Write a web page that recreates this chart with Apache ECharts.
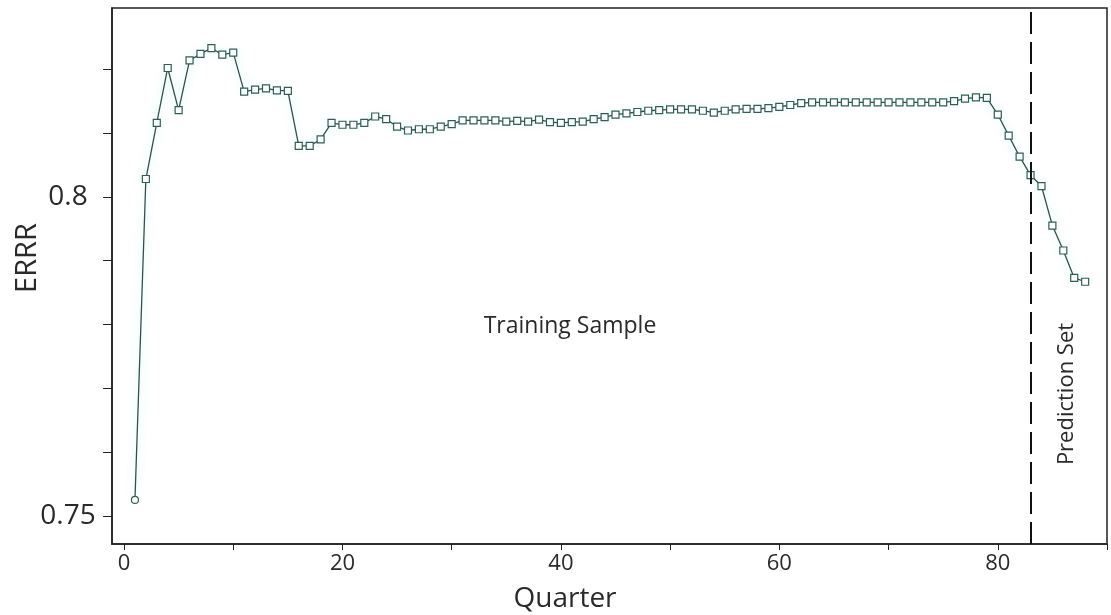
<!DOCTYPE html>
<html>
<head>
<meta charset="utf-8">
<script src="https://cdn.jsdelivr.net/npm/echarts@6/dist/echarts.min.js"></script>
<style>
html,body{margin:0;padding:0;background:#fff;}
#chart{width:1111px;height:615px;}
</style>
</head>
<body>
<div id="chart"></div>
<script>
const quarters = [];
for (let q = 1; q <= 88; q++) quarters.push(q);

const errr = [
  0.7525, 0.8028, 0.8116, 0.8202, 0.8136, 0.8214, 0.8224, 0.8233, 0.8223, 0.8226,
  0.8165, 0.8168, 0.8170, 0.8167, 0.8166, 0.8080, 0.8080, 0.8090, 0.8116, 0.8113,
  0.8113, 0.8116, 0.8126, 0.8122, 0.8110, 0.8104, 0.8106, 0.8106, 0.8110, 0.8114,
  0.8120, 0.8120, 0.8120, 0.8120, 0.8118, 0.8119, 0.8118, 0.8121, 0.8117, 0.8116,
  0.8117, 0.8118, 0.8122, 0.8125, 0.8129, 0.8131, 0.8133, 0.8135, 0.8136, 0.8137,
  0.8137, 0.8137, 0.8135, 0.8132, 0.8135, 0.8137, 0.8138, 0.8138, 0.8139, 0.8141,
  0.8144, 0.8147, 0.8148, 0.8148, 0.8148, 0.8148, 0.8148, 0.8148, 0.8148, 0.8148,
  0.8148, 0.8148, 0.8148, 0.8148, 0.8148, 0.8150, 0.8154, 0.8156, 0.8155, 0.8129,
  0.8096, 0.8063, 0.8034, 0.8017, 0.7955, 0.7916, 0.7873, 0.7867
];

const xTicks = [0, 10, 20, 30, 40, 50, 60, 70, 80, 90];
const xLabels = [0, 20, 40, 60, 80];
const yTicks = [0.75, 0.76, 0.77, 0.78, 0.79, 0.80, 0.81, 0.82];
const yLabels = [0.75, 0.8];
const splitQuarter = 83;

const seriesData = quarters.map((q, i) => ({
  value: [q, errr[i]],
  symbol: i === 0 ? 'circle' : 'rect'
}));

const chart = echarts.init(document.getElementById('chart'));
const font = '"Open Sans", "Noto Sans", sans-serif';
const ink = '#2a2a2a';
chart.setOption({
  animation: false,
  backgroundColor: '#ffffff',
  grid: {
    left: 112, right: 4, top: 8, bottom: 71,
    containLabel: false, outerBoundsMode: 'none',
    show: true, borderColor: '#222', borderWidth: 1.5, backgroundColor: 'transparent'
  },
  xAxis: {
    type: 'value',
    min: -1.1, max: 90,
    name: 'Quarter',
    nameLocation: 'middle',
    nameGap: 41,
    nameTextStyle: { fontSize: 28, color: ink, fontFamily: font, padding: [0, 89, 0, 0] },
    axisLine: { show: true, onZero: false, lineStyle: { color: '#222', width: 1.5 } },
    axisTick: { show: true, length: 6, customValues: xTicks, lineStyle: { color: '#222' } },
    axisLabel: { customValues: xLabels, fontSize: 22, color: ink, margin: 9, fontFamily: font },
    splitLine: { show: false }
  },
  yAxis: {
    type: 'value',
    min: 0.7456, max: 0.8296,
    axisLine: { show: true, onZero: false, lineStyle: { color: '#222', width: 1.5 } },
    axisTick: { show: true, length: 9, customValues: yTicks, lineStyle: { color: '#222' } },
    axisLabel: {
      customValues: yLabels, fontSize: 28, color: ink, margin: 44, align: 'center', fontFamily: font,
      formatter: v => String(Math.round(v * 100) / 100)
    },
    splitLine: { show: false }
  },
  series: [{
    type: 'line',
    data: seriesData,
    symbolSize: 7,
    showSymbol: true,
    lineStyle: { color: '#33504a', width: 1.3, shadowColor: 'rgba(80,230,210,0.45)', shadowBlur: 10 },
    itemStyle: { color: '#ffffff', borderColor: '#2f5e55', borderWidth: 1.2 },
    markLine: {
      silent: true,
      symbol: 'none',
      label: { show: false },
      lineStyle: { color: '#111', width: 2, type: [22, 8] },
      data: [{ xAxis: splitQuarter }]
    }
  }],
  graphic: [
    {
      type: 'text', x: 28, y: 258, rotation: Math.PI / 2,
      style: { text: 'ERRR', fontSize: 29, fill: ink, fontFamily: font, align: 'center', verticalAlign: 'middle' }
    },
    {
      type: 'text', x: 570, y: 326,
      style: { text: 'Training Sample', fontSize: 23, fill: ink, fontFamily: font, align: 'center', verticalAlign: 'middle' }
    },
    {
      type: 'text', x: 1067, y: 394, rotation: Math.PI / 2,
      style: { text: 'Prediction Set', fontSize: 22, fill: ink, fontFamily: font, align: 'center', verticalAlign: 'middle' }
    }
  ]
});
</script>
</body>
</html>
